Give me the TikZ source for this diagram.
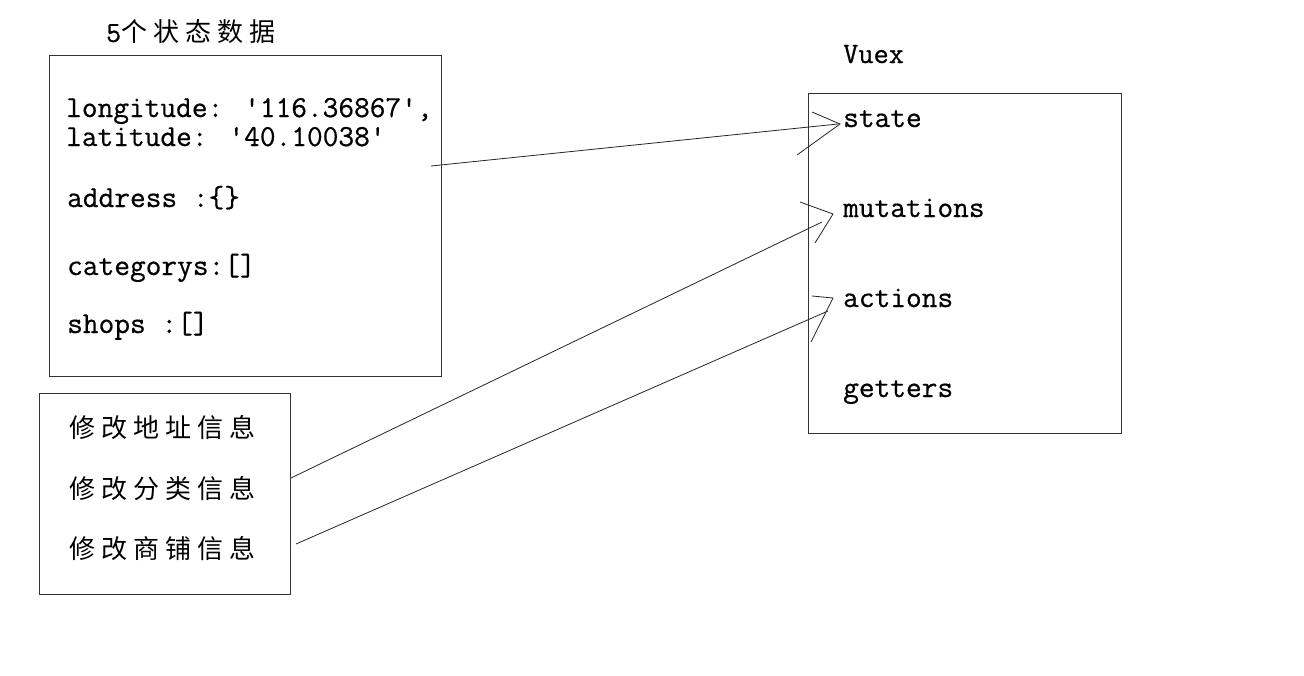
\documentclass[tikz,border=0pt]{standalone}
\usepackage{fontspec}
\newfontfamily\cjk[LetterSpace=23]{Noto Sans CJK SC}
\newfontfamily\mono[FakeBold=0.6]{Latin Modern Mono}
\begin{document}
\begin{tikzpicture}[x=1pt,y=-1pt,
  box/.style={draw=black!80,line width=0.9pt,anchor=north west,inner sep=0pt},
  code/.style={anchor=base west,inner sep=0pt,font=\mono\fontsize{30.5}{30.5}\selectfont},
  zh/.style={anchor=west,inner sep=0pt,font=\cjk\fontsize{26}{26}\selectfont},
  link/.style={draw=black!85,line width=0.8pt},
  tip/.style={draw=black!85,line width=0.8pt,line join=miter}]
\useasboundingbox[fill=white] (0,0) rectangle (1304,675);

% title
\node[anchor=west,inner sep=0pt] (title) at (106,32)
  {{\mono\fontsize{29}{29}\selectfont 5}{\cjk\fontsize{26}{26}\selectfont 个状态数据}};

% state data box
\node[box,minimum width=392pt,minimum height=321pt] (data) at (49,55) {};
\node[code] (lon) at (66,117) {longitude: '116.36867',};
\node[code] (lat) at (66,146) {latitude: '40.10038'};
\node[code] (addr) at (67,207) {address :\{\}};
\node[code] (cat) at (67,275) {categorys:[]};
\node[code] (shops) at (67,333) {shops :[]};

% modification box
\node[box,minimum width=251pt,minimum height=201pt] (mods) at (39,393) {};
\node[zh] (m1) at (69,428) {修改地址信息};
\node[zh] (m2) at (69,489) {修改分类信息};
\node[zh] (m3) at (69,549) {修改商铺信息};

% Vuex box
\node[code,font=\mono\fontsize{29.5}{29.5}\selectfont] (vuex) at (843,63) {Vuex};
\node[box,minimum width=313pt,minimum height=340pt] (store) at (808,93) {};
\node[code] (state) at (843,127) {state};
\node[code] (mut) at (843,217) {mutations};
\node[code] (act) at (843,307) {actions};
\node[code] (get) at (843,397) {getters};

% connectors
\coordinate (s1) at (431,166);
\coordinate (t1) at (838,124);
\coordinate (a1) at (812,112);
\coordinate (p1) at (840,124);
\coordinate (b1) at (797,155);
\draw[link] (s1) -- (t1);
\draw[tip] (a1) -- (p1) -- (b1);

\coordinate (s2) at (mods.east |- 0,478);
\coordinate (t2) at (822,222);
\coordinate (a2) at (800,202);
\coordinate (p2) at (833,214);
\coordinate (b2) at (815,243);
\draw[link] (s2) -- (t2);
\draw[tip] (a2) -- (p2) -- (b2);

\coordinate (s3) at (296,544);
\coordinate (t3) at (828,311);
\coordinate (a3) at (812,296);
\coordinate (p3) at (833,298);
\coordinate (b3) at (811,342);
\draw[link] (s3) -- (t3);
\draw[tip] (a3) -- (p3) -- (b3);
\end{tikzpicture}
\end{document}
